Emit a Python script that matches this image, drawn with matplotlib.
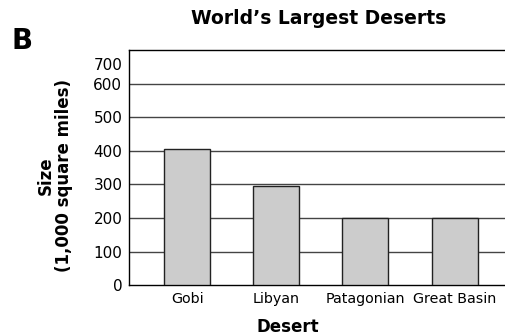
import matplotlib
matplotlib.use("Agg")
import matplotlib.pyplot as plt
import matplotlib.transforms as mtransforms

# Desert areas in thousands of square miles
deserts = ["Gobi", "Libyan", "Patagonian", "Great Basin"]
sizes = [405, 295, 200, 200]
yticks = [0, 100, 200, 300, 400, 500, 600, 700]

plt.rcParams['font.family'] = 'DejaVu Sans'

fig = plt.figure(figsize=(5.05, 3.35), dpi=100)
ax = fig.add_axes([0.256, 0.149, 0.744, 0.701])

x = range(len(deserts))
ax.bar(x, sizes, width=0.516, color='#cccccc', edgecolor='#222222', linewidth=1, zorder=3)

ax.set_xlim(-0.651, 3.566)
ax.set_ylim(0, 700)
ax.set_yticks(yticks)
ax.set_yticklabels([str(v) for v in yticks])
ax.set_xticks(list(x))
ax.set_xticklabels(deserts)
ax.tick_params(axis='y', length=0, pad=5, labelsize=11)
ax.tick_params(axis='x', length=0, pad=5, labelsize=10.3)

# gridlines for the inner values only
for v in yticks[1:-1]:
    ax.axhline(v, color='#444444', linewidth=1, zorder=1)

for side in ['left', 'bottom', 'top']:
    ax.spines[side].set_color('black')
    ax.spines[side].set_linewidth(1)
ax.spines['right'].set_visible(False)

# top label sits a bit lower than its line
lbl = ax.get_yticklabels()[-1]
lbl.set_transform(lbl.get_transform() + mtransforms.ScaledTranslation(0, -14 / 100, fig.dpi_scale_trans))

ax.set_ylabel("Size\n(1,000 square miles)", fontsize=12, fontweight='bold', linespacing=1.05)
ax.yaxis.set_label_coords(-0.149, 0.465)
ax.set_xlabel("Desert", fontsize=12, fontweight='bold')
ax.xaxis.set_label_coords(0.423, -0.14)

fig.text(319 / 505, 1 - 18 / 335, "World\u2019s Largest Deserts", ha='center', va='center',
         fontsize=13.5, fontweight='bold')
fig.text(12 / 505, 1 - 41 / 335, "B", ha='left', va='center', fontsize=20, fontweight='bold')

fig.savefig("out.png", dpi=100)
